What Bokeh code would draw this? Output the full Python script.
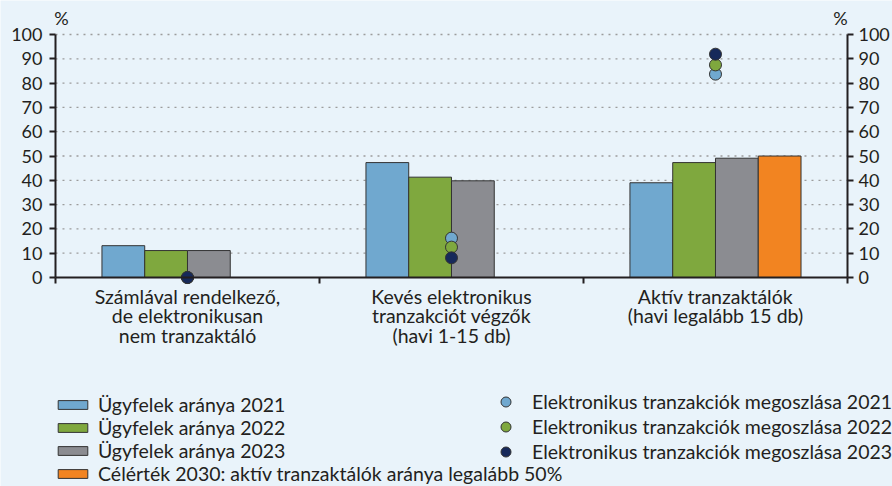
from bokeh.plotting import figure
from bokeh.models import (FixedTicker, LinearAxis, Range1d, Legend, LegendItem, Label)
from bokeh.embed import file_html
from bokeh.resources import INLINE

# ---- data ----
categories = [
    "Számlával rendelkező,\nde elektronikusan\nnem tranzaktáló",
    "Kevés elektronikus\ntranzakciót végzők\n(havi 1-15 db)",
    "Aktív tranzaktálók\n(havi legalább 15 db)",
]
cat_index = [0, 1, 2]
share_2021 = [13.1, 47.3, 39.0]
share_2022 = [11.1, 41.3, 47.3]
share_2023 = [11.1, 39.8, 49.1]
target_index = [2]
target_2030 = [50.0]
etx_2021 = [0.0, 16.2, 83.7]
etx_2022 = [0.0, 12.5, 87.5]
etx_2023 = [0.0, 8.1, 91.9]
y_ticks = [0, 10, 20, 30, 40, 50, 60, 70, 80, 90, 100]
grid_ticks = [10, 20, 30, 40, 50, 60, 70, 80, 90, 100]
cat_bounds = [-0.5, 0.5, 1.5, 2.5]

bar_labels = ["Ügyfelek aránya 2021", "Ügyfelek aránya 2022", "Ügyfelek aránya 2023",
              "Célérték 2030: aktív tranzaktálók aránya legalább 50%"]
dot_labels = ["Elektronikus tranzakciók megoszlása 2021",
              "Elektronikus tranzakciók megoszlása 2022",
              "Elektronikus tranzakciók megoszlása 2023"]

# ---- style ----
BG = "#e9f3fa"
C_BLUE = "#70a8cf"
C_GREEN = "#7fa83e"
C_GREY = "#8b8c91"
C_ORANGE = "#f28421"
C_NAVY = "#16295a"
TXT = "#231f20"
FONT = "Lato"
FS_TICK = "18px"
FS_TEXT = "19.5px"
BW = 0.162

W, H = 892, 486
# frame covers the whole canvas; axes are pinned with fixed_location
p = figure(width=W, height=H, x_range=Range1d(-0.7083, 2.6705), y_range=Range1d(-86.0, 114.0),
           output_backend="svg", toolbar_location=None,
           x_axis_type=None, y_axis_type=None,
           min_border_left=0, min_border_right=0, min_border_top=0, min_border_bottom=0,
           background_fill_color=BG, border_fill_color=BG, outline_line_color=None)

# dotted horizontal grid lines between the two value axes
p.segment(x0=[cat_bounds[0]] * len(grid_ticks), x1=[cat_bounds[-1]] * len(grid_ticks),
          y0=grid_ticks, y1=grid_ticks, line_color="#9c9c9c", line_dash="2 5", line_width=1.3)

def shifted(idx, off):
    return [i + off for i in idx]

r21 = p.vbar(x=shifted(cat_index, -1.5 * BW), top=share_2021, width=BW, bottom=0,
             fill_color=C_BLUE, line_color="#333333", line_width=1)
r22 = p.vbar(x=shifted(cat_index, -0.5 * BW), top=share_2022, width=BW, bottom=0,
             fill_color=C_GREEN, line_color="#333333", line_width=1)
r23 = p.vbar(x=shifted(cat_index, 0.5 * BW), top=share_2023, width=BW, bottom=0,
             fill_color=C_GREY, line_color="#333333", line_width=1)
r30 = p.vbar(x=shifted(target_index, 1.5 * BW), top=target_2030, width=BW, bottom=0,
             fill_color=C_ORANGE, line_color="#333333", line_width=1)

# bottom axis (category labels, boundary ticks)
xax = LinearAxis(ticker=FixedTicker(ticks=cat_index, minor_ticks=cat_bounds),
                 fixed_location=0, bounds=(cat_bounds[0], cat_bounds[-1]))
xax.major_label_overrides = {i: c for i, c in zip(cat_index, categories)}
xax.major_tick_out = 0
xax.major_tick_in = 0
xax.minor_tick_out = 6
xax.minor_tick_in = 0
xax.minor_tick_line_color = TXT
xax.minor_tick_line_width = 2
xax.axis_line_color = TXT
xax.axis_line_width = 2
xax.major_label_text_font = FONT
xax.major_label_text_font_size = FS_TEXT
xax.major_label_text_line_height = 0.86
xax.major_label_text_color = TXT
xax.major_label_standoff = 1
p.add_layout(xax, "below")

for side, loc, so in (("left", cat_bounds[0], 7), ("right", cat_bounds[-1], 5)):
    ax = LinearAxis(ticker=FixedTicker(ticks=y_ticks), fixed_location=loc,
                    bounds=(y_ticks[0], y_ticks[-1]))
    ax.major_tick_out = 6
    ax.major_tick_in = 0
    ax.minor_tick_out = 0
    ax.minor_tick_in = 0
    ax.major_tick_line_color = TXT
    ax.major_tick_line_width = 2
    ax.axis_line_color = TXT
    ax.axis_line_width = 2
    ax.major_label_text_font = FONT
    ax.major_label_text_font_size = FS_TICK
    ax.major_label_text_color = TXT
    ax.major_label_standoff = so
    p.add_layout(ax, side)

d21 = p.scatter(x=cat_index, y=etx_2021, size=12, fill_color=C_BLUE, line_color="#333333", line_width=1)
d22 = p.scatter(x=cat_index, y=etx_2022, size=12, fill_color=C_GREEN, line_color="#333333", line_width=1)
d23 = p.scatter(x=cat_index, y=etx_2023, size=12, fill_color=C_NAVY, line_color="#333333", line_width=1)

for xs in (61, 840):
    p.add_layout(Label(x=xs, y=H - 17, x_units="screen", y_units="screen", text="%",
                       text_align="center", text_baseline="middle",
                       text_font=FONT, text_font_size=FS_TICK, text_color=TXT))

leg1 = Legend(items=[LegendItem(label=bar_labels[0], renderers=[r21]),
                     LegendItem(label=bar_labels[1], renderers=[r22]),
                     LegendItem(label=bar_labels[2], renderers=[r23]),
                     LegendItem(label=bar_labels[3], renderers=[r30])],
              location=(54, 1), glyph_width=37, glyph_height=11, label_height=20,
              label_standoff=7, spacing=-1, padding=0, margin=0,
              border_line_color=None, background_fill_alpha=0,
              label_text_font=FONT, label_text_font_size=FS_TEXT, label_text_color=TXT)
leg2 = Legend(items=[LegendItem(label=dot_labels[0], renderers=[d21]),
                     LegendItem(label=dot_labels[1], renderers=[d22]),
                     LegendItem(label=dot_labels[2], renderers=[d23])],
              location=(493, 22), glyph_width=25, glyph_height=25, label_height=20,
              label_standoff=14, spacing=-4, padding=0, margin=0,
              border_line_color=None, background_fill_alpha=0,
              label_text_font=FONT, label_text_font_size=FS_TEXT, label_text_color=TXT)
p.add_layout(leg1)
p.add_layout(leg2)

open("out.html", "w").write(file_html(p, INLINE))
